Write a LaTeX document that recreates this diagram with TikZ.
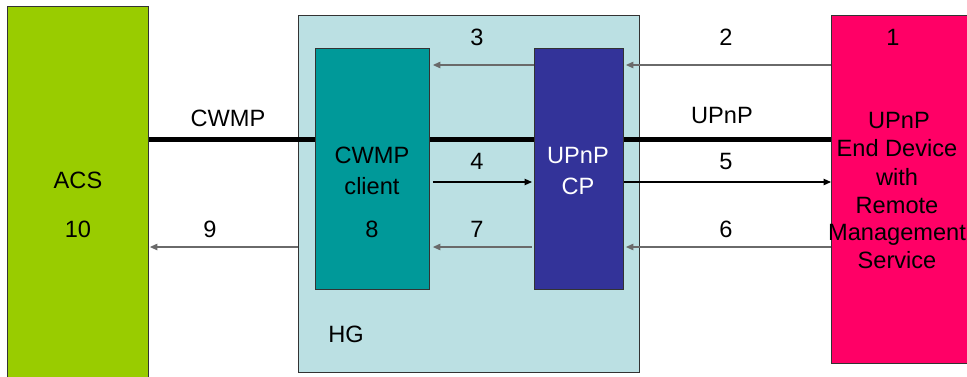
\documentclass[tikz,border=0pt]{standalone}
\usepackage{fontspec}
\setmainfont{Liberation Sans}
\usetikzlibrary{arrows.meta}
\definecolor{acsgreen}{HTML}{99CC00}
\definecolor{hgblue}{HTML}{BBE0E3}
\definecolor{clientteal}{HTML}{009999}
\definecolor{cpblue}{HTML}{333399}
\definecolor{devpink}{HTML}{FF0066}
\definecolor{backarrow}{HTML}{6A6A6A}
\tikzset{
  box/.style={draw=black!80, line width=0.9pt, inner sep=0pt, anchor=north west},
  txt/.style={font=\fontsize{23.6}{28}\selectfont, anchor=base, inner sep=0pt},
  bus/.style={line width=5pt},
  fwd/.style={line width=1.1pt, draw=black, -{Triangle[length=7.5pt,width=6.5pt]}},
  back/.style={line width=1.1pt, draw=backarrow, -{Triangle[length=7.5pt,width=6.5pt]}},
}
\begin{document}
\begin{tikzpicture}[x=1pt,y=-1pt]
\useasboundingbox (0,0) rectangle (967,376);
% outer blocks
\node[box, fill=acsgreen, minimum width=141pt, minimum height=376pt] (acs) at (7,6) {};
\node[box, fill=hgblue, minimum width=341pt, minimum height=357pt] (hg) at (298,15) {};
\node[box, fill=devpink, minimum width=140pt, minimum height=348pt] (ed) at (831,15) {};
% row heights
\coordinate (bus) at (0,139);
\coordinate (rowA) at (0,65);
\coordinate (rowB) at (0,182);
\coordinate (rowC) at (0,247);
% CWMP / UPnP bus
\draw[bus] (acs.east |- bus) -- (ed.west |- bus);
% inner blocks of the home gateway
\node[box, fill=clientteal, minimum width=114pt, minimum height=241pt] (cw) at (315,48) {};
\node[box, fill=cpblue, minimum width=89pt, minimum height=241pt] (cp) at (534,48) {};
% message flow
\draw[back] (ed.west |- rowA) -- ([xshift=2pt]cp.east |- rowA);
\draw[back] (cp.west |- rowA) -- ([xshift=3pt]cw.east |- rowA);
\draw[fwd] ([xshift=3pt]cw.east |- rowB) -- ([xshift=-2pt]cp.west |- rowB);
\draw[fwd] (cp.east |- rowB) -- (ed.west |- rowB);
\draw[back] (ed.west |- rowC) -- ([xshift=2pt]cp.east |- rowC);
\draw[back] ([xshift=-2pt]cp.west |- rowC) -- ([xshift=3pt]cw.east |- rowC);
\draw[back] (hg.west |- rowC) -- ([xshift=1pt]acs.east |- rowC);
% labels
\node[txt] (tacs) at (78,188) {ACS};
\node[txt] (t10) at (78,237) {10};
\node[txt] (tcwmp) at (228,126) {CWMP};
\node[txt] (t9) at (210,237) {9};
\node[txt] (t3) at (477,45) {3};
\node[txt] (t4) at (477,169) {4};
\node[txt] (t7) at (477,237) {7};
\node[txt] (tcw1) at (372,163) {CWMP};
\node[txt] (tcw2) at (372,194) {client};
\node[txt] (t8) at (372,237) {8};
\node[txt, text=white] (tcp1) at (578,163) {UPnP};
\node[txt, text=white] (tcp2) at (578,194) {CP};
\node[txt] (thg) at (346,342) {HG};
\node[txt] (t2) at (726,45) {2};
\node[txt] (tupnp) at (722,123) {UPnP};
\node[txt] (t5) at (726,169) {5};
\node[txt] (t6) at (726,237) {6};
\node[txt] (t1) at (893,45) {1};
\node[txt] (ted1) at (899,128) {UPnP};
\node[txt] (ted2) at (897,156) {End Device};
\node[txt] (ted3) at (897,185) {with};
\node[txt] (ted4) at (897,213) {Remote};
\node[txt] (ted5) at (897,240) {Management};
\node[txt] (ted6) at (897,268) {Service};
\end{tikzpicture}
\end{document}
